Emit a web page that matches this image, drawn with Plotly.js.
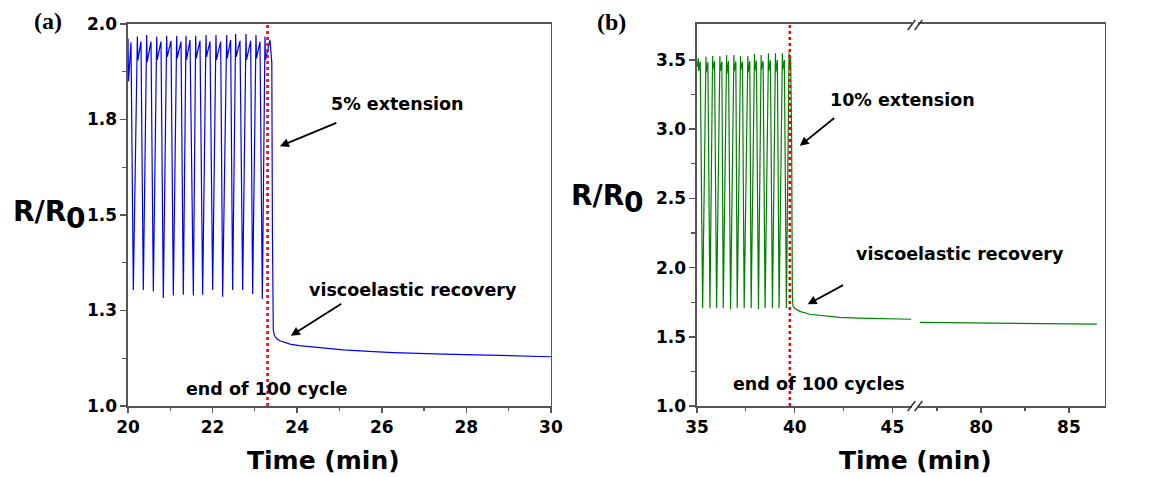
<!DOCTYPE html>
<html>
<head>
<meta charset="utf-8">
<script src="https://cdn.plot.ly/plotly-3.0.1.min.js"></script>
<style>
  html, body { margin: 0; padding: 0; background: #ffffff; }
  #chart { width: 1149px; height: 477px; }
</style>
</head>
<body>
<div id="chart"></div>
<script>
// ---- Panel (a): 5% extension, last cycles and recovery ----
const timeA = [
  20.000, 20.012, 20.071, 20.126,
  20.221, 20.233, 20.307, 20.362,
  20.441, 20.453, 20.544, 20.599,
  20.678, 20.690, 20.780, 20.835,
  20.914, 20.926, 21.017, 21.072,
  21.151, 21.163, 21.253, 21.308,
  21.371, 21.383, 21.466, 21.545,
  21.600, 21.612, 21.702, 21.765,
  21.844, 21.856, 21.939, 22.002,
  22.080, 22.092, 22.191, 22.238,
  22.333, 22.345, 22.427, 22.474,
  22.545, 22.557, 22.648, 22.711,
  22.790, 22.802, 22.900, 22.947,
  23.026, 23.038, 23.121, 23.176,
  23.239, 23.251, 23.357,
  23.400, 23.415, 23.425, 23.435, 23.460, 23.520, 23.593, 23.700,
  23.830, 24.050, 24.303, 24.700, 25.090, 25.700, 26.272, 27.454,
  28.636, 30.000
];
const ratioA = [
  1.962, 1.850, 1.952, 1.304,
  1.967, 1.905, 1.954, 1.304,
  1.971, 1.901, 1.954, 1.300,
  1.967, 1.906, 1.954, 1.283,
  1.969, 1.914, 1.956, 1.289,
  1.969, 1.910, 1.954, 1.291,
  1.969, 1.906, 1.958, 1.289,
  1.969, 1.910, 1.956, 1.291,
  1.971, 1.914, 1.954, 1.304,
  1.971, 1.906, 1.954, 1.286,
  1.971, 1.910, 1.958, 1.304,
  1.974, 1.914, 1.956, 1.304,
  1.974, 1.906, 1.956, 1.293,
  1.971, 1.910, 1.954, 1.280,
  1.967, 1.906, 1.958,
  1.900, 1.450, 1.240, 1.200, 1.185, 1.176, 1.171, 1.166,
  1.162, 1.158, 1.155, 1.151, 1.147, 1.143, 1.140, 1.136,
  1.133, 1.129
];
const endCycleA = 23.30;

// ---- Panel (b): 10% extension, last cycles and recovery ----
const timeB = [
  35.000,
  35.068, 35.085, 35.168, 35.289,
  35.459, 35.476, 35.559, 35.663,
  35.799, 35.816, 35.899, 36.003,
  36.173, 36.190, 36.273, 36.344,
  36.514, 36.531, 36.614, 36.718,
  36.888, 36.905, 36.988, 37.058,
  37.228, 37.245, 37.328, 37.415,
  37.602, 37.619, 37.702, 37.772,
  37.942, 37.959, 38.042, 38.146,
  38.282, 38.299, 38.382, 38.486,
  38.656, 38.673, 38.756, 38.861,
  39.014, 39.031, 39.114, 39.201,
  39.371, 39.388, 39.471, 39.575,
  39.711, 39.728, 39.790,
  39.840, 39.880, 39.910, 40.000, 40.260, 40.770, 41.500, 42.300,
  43.300, 44.340, 45.970
];
const ratioB = [
  3.450,
  3.512, 3.420, 3.490, 1.706,
  3.524, 3.410, 3.485, 1.706,
  3.529, 3.430, 3.490, 1.706,
  3.529, 3.420, 3.488, 1.706,
  3.536, 3.400, 3.492, 1.699,
  3.536, 3.420, 3.490, 1.706,
  3.529, 3.430, 3.488, 1.706,
  3.529, 3.410, 3.492, 1.706,
  3.543, 3.420, 3.495, 1.699,
  3.536, 3.430, 3.492, 1.706,
  3.548, 3.420, 3.498, 1.706,
  3.548, 3.410, 3.500, 1.706,
  3.548, 3.430, 3.500, 1.706,
  3.555, 3.430, 3.520,
  3.000, 1.800, 1.722, 1.705, 1.684, 1.663, 1.650, 1.641,
  1.635, 1.630, 1.627
];
const timeBLate = [76.53, 78.50, 81.08, 84.00, 86.59];
const ratioBLate = [1.605, 1.602, 1.598, 1.594, 1.591];
const endCycleB = 39.75;

// ---- Tick labels ----
const xTicksA = [20, 22, 24, 26, 28, 30];
const xTickTextA = ['20', '22', '24', '26', '28', '30'];
const xMinorA = [21, 23, 25, 27, 29];
const yTicksA = [1.0, 1.25, 1.5, 1.75, 2.0];
const yTickTextA = ['1.0', '1.3', '1.5', '1.8', '2.0'];
const yMinorA = [1.125, 1.375, 1.625, 1.875];

const xTicksB1 = [35, 40, 45];
const xTickTextB1 = ['35', '40', '45'];
const xMinorB1 = [37.5, 42.5];
const xTicksB2 = [80, 85];
const xTickTextB2 = ['80', '85'];
const xMinorB2 = [77.5, 82.5];
const yTicksB = [1.0, 1.5, 2.0, 2.5, 3.0, 3.5];
const yTickTextB = ['1.0', '1.5', '2.0', '2.5', '3.0', '3.5'];
const yMinorB = [1.25, 1.75, 2.25, 2.75, 3.25];

// ---- Styling ----
const SANS = 'DejaVu Sans, Arial, sans-serif';
const SERIF = 'Liberation Serif, Times New Roman, serif';
const AXIS_COLOR = '#555555';
const tickFont = { family: SANS, size: 17, color: '#000', weight: 'bold' };
const Y_DOMAIN = [0.1488, 0.9497];
const bold = arr => arr.map(s => '<b>' + s + '</b>');

function xAxis(domain, range, vals, text, minorVals, anchor) {
  return {
    domain: domain, range: range, anchor: anchor,
    tickmode: 'array', tickvals: vals, ticktext: bold(text),
    ticks: 'outside', ticklen: 5, tickwidth: 1.5, tickcolor: AXIS_COLOR,
    minor: { tickmode: 'array', tickvals: minorVals, ticks: 'outside', ticklen: 3, tickwidth: 1.2, tickcolor: AXIS_COLOR },
    showline: true, linecolor: AXIS_COLOR, linewidth: 1.5, mirror: true,
    showgrid: false, zeroline: false, tickfont: tickFont, fixedrange: true
  };
}
function yAxis(range, vals, text, minorVals, anchor, mirror) {
  return {
    domain: Y_DOMAIN, range: range, anchor: anchor,
    tickmode: 'array', tickvals: vals, ticktext: bold(text),
    ticks: 'outside', ticklen: 6, tickwidth: 1.5, tickcolor: AXIS_COLOR,
    minor: { tickmode: 'array', tickvals: minorVals, ticks: 'outside', ticklen: 4, tickwidth: 1.2, tickcolor: AXIS_COLOR },
    showline: true, linecolor: AXIS_COLOR, linewidth: 1.5, mirror: mirror,
    showgrid: false, zeroline: false, tickfont: tickFont, fixedrange: true
  };
}

const traces = [
  { x: timeA, y: ratioA, xaxis: 'x', yaxis: 'y', type: 'scatter', mode: 'lines',
    line: { color: '#0000ff', width: 1.2 }, hoverinfo: 'skip' },
  { x: timeB, y: ratioB, xaxis: 'x2', yaxis: 'y2', type: 'scatter', mode: 'lines',
    line: { color: '#008000', width: 1.2 }, hoverinfo: 'skip' },
  { x: timeBLate, y: ratioBLate, xaxis: 'x3', yaxis: 'y3', type: 'scatter', mode: 'lines',
    line: { color: '#008000', width: 1.2 }, hoverinfo: 'skip' }
];

// paper helpers (pixels -> paper fractions)
const W = 1149, H = 477;
const px = v => v / W;
const py = v => 1 - v / H;

function label(text, x, y, size, extra) {
  return Object.assign({
    text: text, xref: 'paper', yref: 'paper', x: px(x), y: py(y),
    xanchor: 'center', yanchor: 'middle', showarrow: false, borderpad: 0,
    font: { family: SANS, size: size, color: '#000', weight: 'bold' }
  }, extra || {});
}
function arrow(xr, yr, x, y, ax, ay) {
  return {
    text: '', xref: xr, yref: yr, x: x, y: y, ax: ax, ay: ay,
    showarrow: true, arrowhead: 2, arrowsize: 1, arrowwidth: 1.8, arrowcolor: '#000'
  };
}

const serifFont = { family: SERIF, size: 24, color: '#000', weight: 'bold' };

const annotations = [
  // panel letters
  label('(a)', 48, 21, 24, { font: serifFont }),
  label('(b)', 611, 22, 24, { font: serifFont }),
  // y titles
  label('R/R', 67, 211, 28, { xanchor: 'right' }),
  label('0', 65, 218, 28, { xanchor: 'left' }),
  label('R/R', 625, 195, 28, { xanchor: 'right' }),
  label('0', 623, 202, 28, { xanchor: 'left' }),
  // x titles
  label('Time (min)', 323, 460, 25),
  label('Time (min)', 915, 460, 25),
  // panel (a) notes
  label('5% extension', 397, 104, 17.5),
  label('viscoelastic recovery', 413, 290, 17.5),
  label('end of 100 cycle', 266, 389, 17.5),
  arrow('x', 'y', 23.59, 1.68, 58, -24),
  arrow('x', 'y', 23.85, 1.184, 52, -33),
  // panel (b) notes
  label('10% extension', 902, 100, 17.5),
  label('viscoelastic recovery', 960, 254, 17.5),
  label('end of 100 cycles', 819, 384, 17.5),
  arrow('x2', 'y2', 40.26, 2.88, 36, -29),
  arrow('x2', 'y2', 40.66, 1.735, 37, -20)
];

// axis-break slashes on panel (b)
function slash(cx, cy) {
  return {
    type: 'line', xref: 'paper', yref: 'paper',
    x0: px(cx - 3.8), y0: py(cy + 5), x1: px(cx + 3.8), y1: py(cy - 5),
    line: { color: '#333', width: 1.5 }
  };
}

const shapes = [
  { type: 'line', xref: 'x', yref: 'y domain', x0: endCycleA, x1: endCycleA, y0: 0, y1: 1,
    line: { color: '#ff0000', width: 2.6, dash: 'dot' } },
  { type: 'line', xref: 'x2', yref: 'y2 domain', x0: endCycleB, x1: endCycleB, y0: 0, y1: 1,
    line: { color: '#ff0000', width: 2.6, dash: 'dot' } },
  slash(911.5, 25), slash(918.5, 25),
  slash(911.5, 406), slash(918.5, 406)
];

const layout = {
  width: W, height: H,
  margin: { l: 0, r: 0, t: 0, b: 0 },
  paper_bgcolor: '#ffffff', plot_bgcolor: '#ffffff',
  showlegend: false,
  xaxis: xAxis([0.1114, 0.4795], [20, 30], xTicksA, xTickTextA, xMinorA, 'y'),
  yaxis: yAxis([1, 2], yTicksA, yTickTextA, yMinorA, 'x', true),
  xaxis2: xAxis([0.6066, 0.7937], [35, 46], xTicksB1, xTickTextB1, xMinorB1, 'y2'),
  yaxis2: yAxis([1, 3.76], yTicksB, yTickTextB, yMinorB, 'x2', false),
  xaxis3: xAxis([0.7990, 0.9617], [76.42, 87.05], xTicksB2, xTickTextB2, xMinorB2, 'y3'),
  yaxis3: {
    domain: Y_DOMAIN, range: [1, 3.76], anchor: 'x3', side: 'right',
    showline: true, linecolor: AXIS_COLOR, linewidth: 1.5,
    ticks: '', showticklabels: false, showgrid: false, zeroline: false, fixedrange: true
  },
  annotations: annotations,
  shapes: shapes
};

Plotly.newPlot('chart', traces, layout, { displayModeBar: false, staticPlot: true });
</script>
</body>
</html>
